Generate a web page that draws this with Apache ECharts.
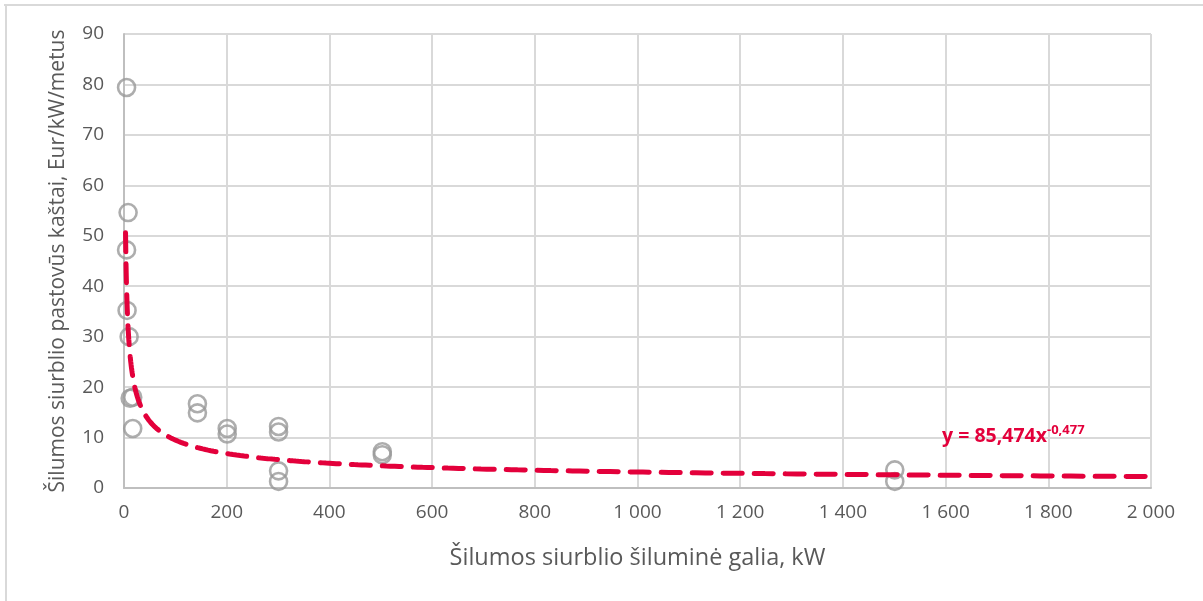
<!DOCTYPE html>
<html>
<head>
<meta charset="utf-8">
<script src="https://cdn.jsdelivr.net/npm/echarts@6/dist/echarts.min.js"></script>
<style>
  html, body { margin: 0; padding: 0; background: #fff; }
  #chart { width: 1203px; height: 601px; }
</style>
</head>
<body>
<div id="chart"></div>
<script>
// Heat pump capacity (kW) and fixed annual costs (Eur/kW/year)
const capacityKW = [5, 8, 5, 6, 10, 12, 17, 17, 143, 143, 201, 201, 301, 301, 301, 301, 503, 503, 1501, 1501];
const fixedCost  = [79.4, 54.6, 47.2, 35.2, 30.0, 17.8, 18.0, 11.8, 16.7, 14.9, 11.8, 10.7, 12.2, 11.1, 3.4, 1.3, 7.2, 6.6, 3.6, 1.3];

// Power trendline y = a * x^b
const trendA = 85.474;
const trendB = -0.477;
const trendXMin = 3;
const trendXMax = 2000;

const xTicks = [0, 200, 400, 600, 800, 1000, 1200, 1400, 1600, 1800, 2000];
const yTicks = [0, 10, 20, 30, 40, 50, 60, 70, 80, 90];

const points = capacityKW.map((x, i) => [x, fixedCost[i]]);

// Sample the trendline on a log scale so the steep part stays smooth
const trend = [];
const steps = 400;
for (let i = 0; i <= steps; i++) {
  const x = trendXMin * Math.pow(trendXMax / trendXMin, i / steps);
  trend.push([x, trendA * Math.pow(x, trendB)]);
}

const fmtNum = v => String(v).replace('.', ',');
const fmtThousands = v => String(v).replace(/\B(?=(\d{3})+(?!\d))/g, ' ');

const FONT = '"Open Sans", Lato, sans-serif';
const TEXT = '#595959';
const RED = '#e3003b';

const chart = echarts.init(document.getElementById('chart'));
chart.setOption({
  animation: false,
  backgroundColor: '#ffffff',
  textStyle: { fontFamily: FONT },
  graphic: [
    { type: 'line', shape: { x1: 4, y1: 5, x2: 1203, y2: 5 }, style: { stroke: '#d9d9d9', lineWidth: 2 } },
    { type: 'line', shape: { x1: 6, y1: 5, x2: 6, y2: 601 }, style: { stroke: '#d9d9d9', lineWidth: 2 } }
  ],
  grid: { left: 124, right: 52, top: 34, bottom: 113 },
  xAxis: {
    type: 'value',
    min: xTicks[0],
    max: xTicks[xTicks.length - 1],
    interval: xTicks[1] - xTicks[0],
    name: 'Šilumos siurblio šiluminė galia, kW',
    nameLocation: 'middle',
    nameGap: 58,
    nameTextStyle: { color: TEXT, fontSize: 23.5, fontFamily: FONT },
    axisLine: { show: true, lineStyle: { color: '#bfbfbf', width: 2 } },
    axisTick: { show: false },
    axisLabel: { color: TEXT, fontSize: 19, margin: 15, formatter: v => fmtThousands(v) },
    splitLine: { show: true, lineStyle: { color: '#d9d9d9', width: 2 } }
  },
  yAxis: {
    type: 'value',
    min: yTicks[0],
    max: yTicks[yTicks.length - 1],
    interval: yTicks[1] - yTicks[0],
    name: 'Šilumos siurblio pastovūs kaštai, Eur/kW/metus',
    nameLocation: 'middle',
    nameGap: 55,
    nameTextStyle: { color: TEXT, fontSize: 21, fontFamily: FONT },
    axisLine: { show: true, lineStyle: { color: '#bfbfbf', width: 2 } },
    axisTick: { show: false },
    axisLabel: { color: TEXT, fontSize: 19, margin: 20 },
    splitLine: { show: true, lineStyle: { color: '#d9d9d9', width: 2 } }
  },
  series: [
    {
      type: 'scatter',
      data: points,
      symbol: 'circle',
      symbolSize: 17,
      z: 3,
      itemStyle: { color: 'rgba(0,0,0,0)', borderColor: '#999999', borderWidth: 2.6 }
    },
    {
      type: 'line',
      data: trend,
      showSymbol: false,
      smooth: false,
      z: 4,
      lineStyle: { color: RED, width: 5, type: [19, 12], cap: 'round' },
      markPoint: {
        symbol: 'circle',
        symbolSize: 0,
        data: [{ coord: [1593, 10.2] }],
        label: {
          show: true,
          position: 'right',
          distance: 0,
          formatter: '{m|y = ' + fmtNum(trendA) + 'x}{s|' + fmtNum(trendB) + '}',
          rich: {
            m: { color: RED, fontSize: 19.5, fontWeight: 'bold', fontFamily: FONT },
            s: { color: RED, fontSize: 13, fontWeight: 'bold', fontFamily: FONT, padding: [0, 0, 13, 0] }
          }
        }
      }
    }
  ]
});
</script>
</body>
</html>
